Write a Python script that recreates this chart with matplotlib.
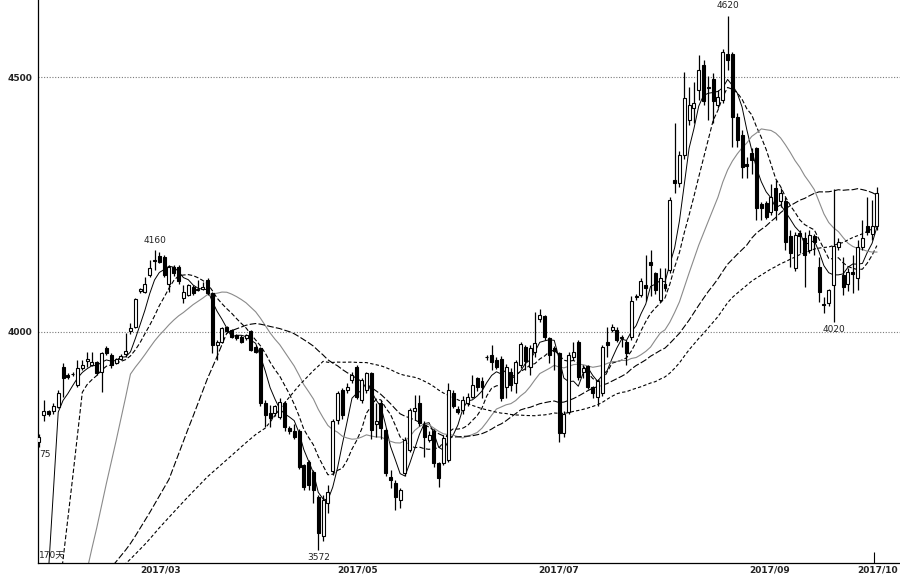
import numpy as np
import pandas as pd
import matplotlib
matplotlib.use("Agg")
import matplotlib.pyplot as plt

plt.rcParams['font.family'] = ['DejaVu Sans', 'Noto Sans CJK SC']

# ---- data (daily OHLC) ----
opens = [3785,3838,3845,3845,3853,3931,3916,3918,3896,3929,3943,3935,3941,3922,3969,3955,3939,3947,3956,4001,
         4010,4080,4079,4112,4140,4149,4148,4095,4128,4128,4066,4073,4089,4082,4084,4102,4076,3975,3981,4010,
         4004,3994,3991,3988,4001,3971,3968,3860,3841,3841,3834,3860,3811,3805,3805,3739,3745,3725,3677,3599,
         3664,3727,3827,3886,3886,3906,3932,3867,3886,3919,3820,3860,3808,3716,3703,3670,3723,3769,3845,3860,
         3818,3788,3805,3743,3743,3749,3880,3849,3847,3860,3873,3909,3903,3950,3955,3945,3948,3893,3922,3899,
         3935,3971,3932,3961,4025,4031,3988,3968,3958,3801,3844,3950,3981,3922,3933,3893,3873,3880,3981,4004,
         4004,3988,3981,3990,4068,4073,4092,4138,4115,4063,4095,4122,4298,4292,4347,4416,4440,4475,4524,4478,
         4497,4445,4455,4546,4546,4422,4386,4330,4350,4360,4250,4252,4235,4282,4256,4256,4188,4125,4195,4184,
         4161,4188,4128,4055,4056,4092,4167,4112,4095,4118,4105,4167,4207,4193,4207]
highs = [3800,3866,3847,3860,3886,3939,3920,3922,3945,3945,3961,3961,3943,3961,3973,3959,3949,3957,3998,4017,
         4066,4086,4108,4141,4160,4157,4151,4131,4131,4131,4092,4095,4092,4102,4098,4105,4079,3984,4010,4012,
         4006,3997,3994,3997,4004,3974,3971,3867,3857,3857,3870,3864,3816,3820,3809,3742,3748,3730,3680,3680,
         3700,3830,3884,3890,3900,3922,3935,3910,3922,3922,3860,3866,3812,3730,3710,3695,3795,3850,3877,3877,
         3825,3805,3810,3746,3798,3900,3886,3855,3875,3880,3915,3912,3912,3955,3975,3950,3952,3937,3930,3945,
         3980,3975,3975,4040,4045,4033,3990,3972,3960,3845,3960,3980,3985,3935,3935,3895,3908,3975,4010,4015,
         4010,3995,3985,4070,4075,4105,4150,4160,4118,4125,4125,4265,4409,4355,4510,4480,4490,4543,4533,4501,
         4507,4475,4555,4620,4550,4430,4396,4344,4360,4363,4255,4256,4290,4298,4282,4265,4200,4197,4200,4197,
         4200,4193,4148,4069,4085,4280,4185,4148,4125,4150,4180,4220,4265,4258,4285]
lows = [3775,3825,3836,3840,3850,3873,3908,3914,3893,3925,3931,3933,3916,3882,3955,3929,3937,3945,3950,3997,
        4007,4076,4076,4108,4122,4135,4108,4079,4110,4095,4056,4070,4073,4080,4082,4073,3958,3945,3978,3998,
        3988,3984,3978,3984,3962,3958,3855,3814,3814,3835,3830,3806,3800,3790,3731,3690,3690,3665,3572,3590,
        3645,3720,3820,3830,3880,3900,3869,3860,3880,3790,3795,3790,3718,3695,3651,3655,3718,3765,3827,3815,
        3755,3785,3735,3697,3740,3745,3850,3840,3840,3855,3870,3885,3870,3945,3925,3928,3865,3870,3885,3880,
        3930,3925,3915,3950,4020,3985,3940,3925,3785,3795,3840,3945,3905,3910,3888,3870,3855,3875,3950,4000,
        3980,3970,3935,3985,4062,4068,4060,4070,4075,4058,4080,4115,4272,4285,4340,4405,4410,4455,4445,4416,
        4409,4440,4450,4514,4363,4363,4301,4301,4310,4220,4220,4222,4230,4220,4245,4161,4128,4120,4154,4089,
        4155,4150,4059,4037,4050,4020,4160,4073,4080,4076,4082,4160,4190,4180,4200]
closes = [3795,3845,3839,3855,3880,3910,3912,3917,3929,3935,3947,3941,3920,3959,3959,3935,3947,3953,3962,4008,
          4064,4084,4095,4125,4142,4138,4112,4128,4115,4099,4079,4092,4076,4084,4088,4076,3974,3980,4007,4001,
          3991,3988,3981,3994,3965,3961,3860,3837,3831,3854,3863,3814,3805,3795,3736,3697,3700,3690,3605,3671,
          3687,3825,3880,3837,3893,3916,3873,3906,3919,3808,3826,3811,3723,3710,3677,3690,3788,3847,3850,3821,
          3795,3798,3743,3713,3792,3886,3854,3844,3867,3873,3896,3892,3893,3951,3942,3932,3870,3932,3896,3942,
          3976,3944,3968,3978,4033,3990,3955,3962,3801,3840,3955,3960,3912,3929,3893,3880,3903,3971,3975,4010,
          3984,3990,3958,4060,4070,4099,4086,4132,4082,4105,4086,4259,4292,4347,4458,4445,4450,4514,4452,4480,
          4452,4461,4550,4533,4422,4377,4324,4325,4337,4243,4244,4226,4265,4239,4272,4177,4154,4190,4188,4151,
          4190,4177,4079,4053,4082,4169,4177,4089,4118,4114,4167,4184,4197,4207,4272]

# closes before the visible window (only feed the moving averages)
pre_closes = [3482,3495,3503,3488,3476,3470,3485,3497,3510,3502,3491,3478,3486,3499,3515,3507,3494,3481,3473,3489,
              3504,3512,3498,3487,3479,3492,3506,3501,3488,3475,3483,3497,3509,3500,3486,3477,3490,3503,3496,3484,
              3472,3486,3499,3493,3480,3471,3468,
              3112,3098,3085,3102,3117,3094,3081,3106,3120,3099,3088,3105]

ma_periods = [5, 10, 20, 40, 60]
month_labels = ["2017/03", "2017/05", "2017/07", "2017/09", "2017/10"]
month_pos = [25.2, 66.1, 108.0, 151.8, 174.2]
y_ticks = [4000, 4500]
annotations = [(24, 4160, "4160", "above"), (143, 4620, "4620", "above"),
               (58, 3572, "3572", "below"), (165, 4020, "4020", "below")]

# ---- figure ----
fig = plt.figure(figsize=(9.0, 5.78), dpi=100)
ax = fig.add_axes([38/900, 15/578, 1 - 38/900, 1 - 15/578])
ax.set_xlim(-0.2, 178.8)
ax.set_ylim(3547, 4651)

n = len(closes)
x = np.arange(n)
o = np.array(opens, float); h = np.array(highs, float)
l = np.array(lows, float); c = np.array(closes, float)

# grid lines
for yv in y_ticks:
    ax.axhline(yv, color="#7a7a7a", lw=0.8, ls=(0, (1, 1.5)), zorder=1)

# moving averages
full = pd.Series(pre_closes + closes, dtype=float)
styles = {
    5:  dict(color="black", lw=0.7, ls="-"),
    10: dict(color="black", lw=0.8, ls=(0, (4, 2))),
    20: dict(color="#8a8a8a", lw=0.8, ls="-"),
    40: dict(color="black", lw=0.8, ls=(0, (6, 2))),
    60: dict(color="black", lw=0.8, ls=(0, (3, 2))),
}
for p in ma_periods:
    ma = full.rolling(p).mean().values[len(pre_closes):]
    ax.plot(x, ma, zorder=2, **styles[p])

# candles
w = 0.62
up = c >= o
ax.vlines(x, l, h, color="black", lw=0.9, zorder=3)
body_lo = np.minimum(o, c)
body_h = np.maximum(np.abs(c - o), 1.5)
ax.bar(x[up], body_h[up], w, bottom=body_lo[up], facecolor="white",
       edgecolor="black", lw=0.8, zorder=4)
ax.bar(x[~up], body_h[~up], w, bottom=body_lo[~up], facecolor="black",
       edgecolor="black", lw=0.8, zorder=4)

# annotations
for xi, yv, txt, where in annotations:
    if where == "above":
        ax.annotate(txt, (xi, yv), xytext=(0, 4), textcoords="offset points",
                    ha="center", va="bottom", fontsize=6.5, color="#222")
    else:
        ax.annotate(txt, (xi, yv), xytext=(0, -2), textcoords="offset points",
                    ha="center", va="top", fontsize=6.5, color="#222")
ax.text(0.0, 3768, "75", ha="left", va="top", fontsize=6.5, color="#222")
ax.text(0.0, 3555, "170天", ha="left", va="bottom", fontsize=6.5, color="#222")

# axes styling
ax.set_yticks(y_ticks)
ax.set_yticklabels([str(v) for v in y_ticks], fontsize=6.5, color="#222", fontweight="bold")
ax.tick_params(axis="y", length=0, pad=4)
ax.set_xticks(month_pos)
ax.set_xticklabels(month_labels, fontsize=6.5, color="#222", fontweight="bold")
ax.tick_params(axis="x", length=0, pad=2)
ax.vlines(173.5, 3547, 3568, color="black", lw=0.8, zorder=5)
for s in ["top", "right"]:
    ax.spines[s].set_visible(False)
for s in ["left", "bottom"]:
    ax.spines[s].set_linewidth(0.9)
    ax.spines[s].set_color("black")

fig.savefig("out.png", dpi=100)
